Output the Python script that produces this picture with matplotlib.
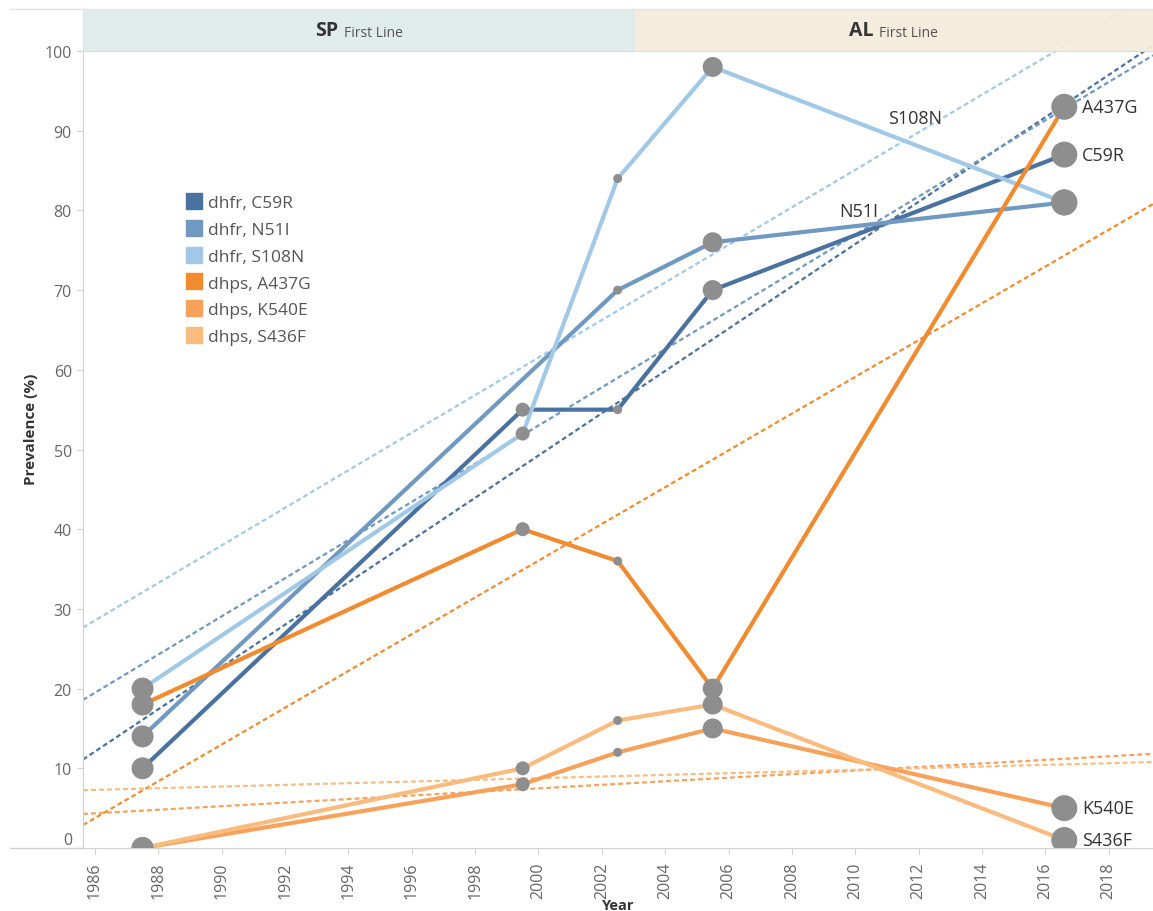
import numpy as np
import matplotlib.pyplot as plt
from matplotlib.lines import Line2D
from matplotlib.patches import Rectangle

plt.rcParams['font.family'] = ['Open Sans', 'DejaVu Sans']

# survey mid-years and prevalence (%) per marker
years = [1987.5, 1999.5, 2002.5, 2005.5, 2016.6]
c59r = [10, 55, 55, 70, 87]
n51i = [14, None, 70, 76, 81]
s108n = [20, 52, 84, 98, 81]
a437g = [18, 40, 36, 20, 93]
k540e = [0, 8, 12, 15, 5]
s436f = [0, 10, 16, 18, 1]

series_names = ['dhfr, C59R', 'dhfr, N51I', 'dhfr, S108N',
                'dhps, A437G', 'dhps, K540E', 'dhps, S436F']
series_values = [c59r, n51i, s108n, a437g, k540e, s436f]
end_labels = {'dhps, A437G': 'A437G', 'dhfr, C59R': 'C59R',
              'dhps, K540E': 'K540E', 'dhps, S436F': 'S436F'}

# treatment policy periods
policy_names = ['SP', 'AL']
policy_switch = 2003.05

colors = ['#4a72a0', '#7099c1', '#a1c9e7', '#f18b2f', '#f8a15a', '#fcbb7e']
# marker diameter (px) for each survey
marker_px = [22, 14, 9, 20, 26]

XMIN, XMAX = 1985.62, 2019.4
YMIN, YMAX = 0, 105.27

fig = plt.figure(figsize=(11.53, 9.12), dpi=100)
ax = fig.add_axes([83 / 1153, 63 / 912, 1 - 83 / 1153, 839 / 912])
ax.set_xlim(XMIN, XMAX)
ax.set_ylim(YMIN, YMAX)

xfit = np.array([XMIN, XMAX])
for name, vals, col in zip(series_names, series_values, colors):
    pts = [(x, v) for x, v in zip(years, vals) if v is not None]
    xs = np.array([p[0] for p in pts])
    ys = np.array([p[1] for p in pts])
    # linear trend
    slope, icpt = np.polyfit(xs, ys, 1)
    ax.plot(xfit, slope * xfit + icpt, color=col, lw=1.6, ls=(0, (2.2, 1.4)), zorder=2)
    ax.plot(xs, ys, color=col, lw=3, solid_capstyle='round', zorder=3)
    sizes = [(marker_px[years.index(x)] * 0.72) ** 2 for x in xs]
    ax.scatter(xs, ys, s=sizes, color='#8e8e8e', edgecolors='none', zorder=4)
    if name in end_labels:
        ax.annotate(end_labels[name], (xs[-1], ys[-1]), xytext=(13, 0),
                    textcoords='offset points', ha='left', va='center',
                    fontsize=13, color='#333333', zorder=6)

ax.text(2011.9, 91.6, 'S108N', ha='center', va='center', fontsize=13, color='#333333', zorder=6)
ax.text(2010.1, 79.9, 'N51I', ha='center', va='center', fontsize=13, color='#333333', zorder=6)

# policy header band
bands = [(XMIN, policy_switch, '#deebe8'), (policy_switch, XMAX, '#f4ecdc')]
for (x0, x1, fc), pname in zip(bands, policy_names):
    ax.add_patch(Rectangle((x0, 100), x1 - x0, YMAX - 100, facecolor=fc,
                           edgecolor='none', alpha=0.93, zorder=5, clip_on=False))
    cx = (x0 + x1) / 2
    ax.annotate(pname, (cx, 102.6), xytext=(-15, 0), textcoords='offset points',
                ha='right', va='center', fontsize=14, fontweight='bold',
                color='#333333', zorder=6)
    ax.annotate('First Line', (cx, 102.35), xytext=(-11, 0), textcoords='offset points',
                ha='left', va='center', fontsize=10, color='#555555', zorder=6)
ax.axhline(100, color='#d8dedd', lw=0.8, zorder=5)

# legend
handles = [Line2D([], [], marker='s', ls='none', markersize=12, color=c) for c in colors]
leg = ax.legend(handles, series_names, loc='upper left', bbox_to_anchor=(0.089, 0.787),
                frameon=False, fontsize=12.5, handletextpad=0.3, labelspacing=0.62,
                handlelength=1.0, borderaxespad=0)
for t in leg.get_texts():
    t.set_color('#555555')

ax.set_yticks(range(0, 101, 10))
ax.set_xticks(range(1986, 2019, 2))
ax.set_xticklabels([str(y) for y in range(1986, 2019, 2)], rotation=90)
ax.tick_params(axis='both', colors='#d0d0d0', labelcolor='#666666', labelsize=11.5, length=4)
ax.tick_params(axis='y', pad=4)
ax.tick_params(axis='x', pad=6)
ax.get_yticklabels()[0].set_va('bottom')

for s in ['top', 'right']:
    ax.spines[s].set_visible(False)
ax.spines['left'].set_color('#d0d0d0')
ax.spines['bottom'].set_color('#d0d0d0')

ax.set_ylabel('Prevalence (%)', fontsize=11, fontweight='bold', color='#333333', labelpad=5)
ax.set_xlabel('Year', fontsize=10.5, fontweight='bold', color='#333333', labelpad=0)

# outer frame lines
fig.add_artist(Line2D([10 / 1153, 83 / 1153], [63 / 912, 63 / 912], color='#d0d0d0', lw=1))
fig.add_artist(Line2D([10 / 1153, 1], [902 / 912, 902 / 912], color='#e4e4e4', lw=1))

fig.savefig('out.png', dpi=100)
